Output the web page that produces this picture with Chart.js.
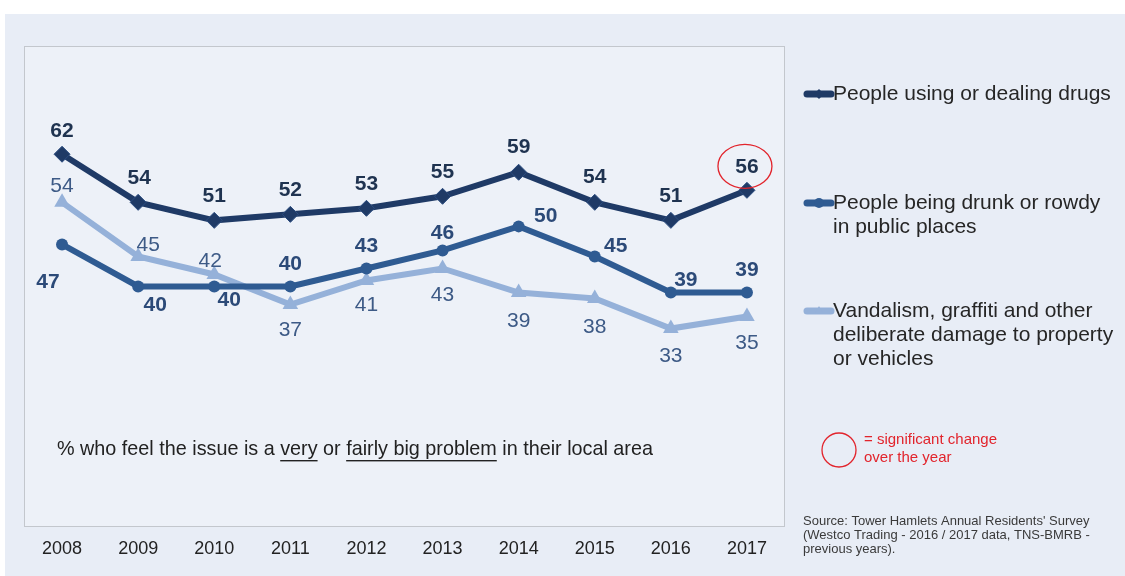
<!DOCTYPE html>
<html>
<head>
<meta charset="utf-8">
<script src="https://cdn.jsdelivr.net/npm/chart.js@4"></script>
<style>
  html, body { margin: 0; padding: 0; background: #ffffff; }
  #panel { position: absolute; left: 5px; top: 14px; width: 1120px; height: 562px; background: #e8edf6; }
  #wrap { position: absolute; left: 0; top: 0; width: 1125px; height: 576px; }
</style>
</head>
<body>
<div id="panel"></div>
<div id="wrap"><canvas id="chart" width="1125" height="576"></canvas></div>
<script>
const years = ['2008', '2009', '2010', '2011', '2012', '2013', '2014', '2015', '2016', '2017'];
const drugs = [62, 54, 51, 52, 53, 55, 59, 54, 51, 56];
const drunk = [47, 40, 40, 40, 43, 46, 50, 45, 39, 39];
const vandalism = [54, 45, 42, 37, 41, 43, 39, 38, 33, 35];
const significant = [false, false, false, false, false, false, false, false, false, true];

const seriesNames = [
  ['People using or dealing drugs'],
  ['People being drunk or rowdy', 'in public places'],
  ['Vandalism, graffiti and other', 'deliberate damage to property', 'or vehicles']
];

// label offsets from each point [dx, dy]
const drugsOffsets = [[0,-23],[1,-24],[0,-24],[0,-24],[0,-24],[0,-24],[0,-25],[0,-25],[0,-24],[0,-23]];
const drunkOffsets = [[-14,38],[17,19],[15,14],[0,-22],[0,-22],[0,-17],[27,-10],[21,-10],[15,-12],[0,-22]];
const vandalOffsets = [[0,-16],[10,-11],[-4,-13],[0,26],[0,25],[0,27],[0,29],[0,29],[0,28],[0,27]];

const FONT = "'Liberation Sans', Arial, Helvetica, sans-serif";
const colDrugs = '#1f3a66';
const colDrunk = '#2f5b92';
const colVandal = '#95b1d9';

const labelPlugin = {
  id: 'labels',
  beforeDraw(chart) {
    const { ctx, chartArea: a } = chart;
    ctx.save();
    ctx.fillStyle = '#edf1f8';
    ctx.fillRect(a.left, a.top, a.right - a.left, a.bottom - a.top);
    ctx.strokeStyle = '#c3c7cd';
    ctx.lineWidth = 1;
    ctx.strokeRect(a.left + 0.5, a.top + 0.5, a.right - a.left - 1, a.bottom - a.top - 1);
    ctx.restore();
  },
  afterDatasetsDraw(chart) {
    const ctx = chart.ctx;
    const specs = [
      { offs: drugsOffsets, font: 'bold 21px ' + FONT, color: '#1f3350' },
      { offs: drunkOffsets, font: 'bold 21px ' + FONT, color: '#2c4a78' },
      { offs: vandalOffsets, font: '21px ' + FONT, color: '#3d5a86' }
    ];
    ctx.save();
    ctx.textAlign = 'center';
    ctx.textBaseline = 'middle';
    chart.data.datasets.forEach((ds, di) => {
      const meta = chart.getDatasetMeta(di);
      const s = specs[di];
      meta.data.forEach((pt, i) => {
        const x = pt.x + s.offs[i][0];
        const y = pt.y + s.offs[i][1];
        ctx.font = s.font;
        ctx.fillStyle = s.color;
        ctx.fillText(String(ds.data[i]), x, y);
        if (di === 0 && significant[i]) {
          ctx.beginPath();
          ctx.strokeStyle = '#e2242c';
          ctx.lineWidth = 1.3;
          ctx.ellipse(x - 2, y - 1, 27, 22, 0, 0, Math.PI * 2);
          ctx.stroke();
        }
      });
    });
    ctx.restore();
  },
  afterDraw(chart) {
    const ctx = chart.ctx;
    ctx.save();
    // note inside plot
    ctx.font = '19.8px ' + FONT;
    ctx.fillStyle = '#222222';
    ctx.textBaseline = 'middle';
    ctx.textAlign = 'left';
    const parts = [
      ['% who feel the issue is a ', false],
      ['very', true],
      [' or ', false],
      ['fairly big problem', true],
      [' in their local area', false]
    ];
    let x = 57;
    const y = 450;
    parts.forEach(([t, u]) => {
      const w = ctx.measureText(t).width;
      ctx.fillText(t, x, y);
      if (u) {
        ctx.fillRect(x, y + 10, w, 1.4);
      }
      x += w;
    });

    // legend
    const cols = [colDrugs, colDrunk, colVandal];
    const styles = ['rectRot', 'circle', 'triangle'];
    const tops = [94, 203, 311];
    ctx.font = '21px ' + FONT;
    seriesNames.forEach((lines, k) => {
      const ly = tops[k];
      ctx.strokeStyle = cols[k];
      ctx.lineWidth = 7;
      ctx.lineCap = 'round';
      ctx.beginPath();
      ctx.moveTo(807, ly);
      ctx.lineTo(831, ly);
      ctx.stroke();
      ctx.fillStyle = cols[k];
      Chart.helpers.drawPoint(ctx, { pointStyle: styles[k], radius: 5, rotation: 0, borderWidth: 0 }, 819, ly);
      ctx.fillStyle = '#262626';
      lines.forEach((ln, j) => {
        ctx.fillText(ln, 833, ly + j * 24);
      });
    });

    // significance key
    ctx.strokeStyle = '#e2242c';
    ctx.lineWidth = 1.3;
    ctx.beginPath();
    ctx.arc(839, 450, 17, 0, Math.PI * 2);
    ctx.stroke();
    ctx.fillStyle = '#e2242c';
    ctx.font = '15px ' + FONT;
    ctx.fillText('= significant change', 864, 440);
    ctx.fillText('over the year', 864, 458);

    // source
    ctx.fillStyle = '#3a3a3a';
    ctx.font = '13px ' + FONT;
    ctx.fillText("Source: Tower Hamlets Annual Residents' Survey", 803, 521);
    ctx.fillText('(Westco Trading - 2016 / 2017 data, TNS-BMRB -', 803, 535);
    ctx.fillText('previous years).', 803, 549);
    ctx.restore();
  }
};

new Chart(document.getElementById('chart').getContext('2d'), {
  type: 'line',
  data: {
    labels: years,
    datasets: [
      {
        label: seriesNames[0].join(' '),
        data: drugs,
        borderColor: colDrugs,
        backgroundColor: colDrugs,
        borderWidth: 6,
        pointStyle: 'rectRot',
        pointRadius: 8,
        pointBorderColor: '#2c4d80',
        pointBorderWidth: 1,
        tension: 0
      },
      {
        label: seriesNames[1].join(' '),
        data: drunk,
        borderColor: colDrunk,
        backgroundColor: colDrunk,
        borderWidth: 6,
        pointStyle: 'circle',
        pointRadius: 6,
        pointBorderWidth: 0,
        tension: 0
      },
      {
        label: seriesNames[2].join(' '),
        data: vandalism,
        borderColor: colVandal,
        backgroundColor: colVandal,
        borderWidth: 6,
        pointStyle: 'triangle',
        pointRadius: 9,
        pointBorderWidth: 0,
        tension: 0
      }
    ]
  },
  options: {
    responsive: false,
    animation: false,
    clip: false,
    layout: { padding: { left: 24, right: 340, top: 46, bottom: 0 } },
    plugins: {
      legend: { display: false },
      tooltip: { enabled: false }
    },
    scales: {
      x: {
        offset: true,
        grid: { display: false },
        border: { display: false },
        ticks: {
          color: '#222222',
          font: { family: FONT, size: 18 },
          padding: 3,
          maxRotation: 0
        },
        afterFit(axis) { axis.height = 49; }
      },
      y: {
        display: false,
        min: 0,
        max: 80
      }
    }
  },
  plugins: [labelPlugin]
});
</script>
</body>
</html>
